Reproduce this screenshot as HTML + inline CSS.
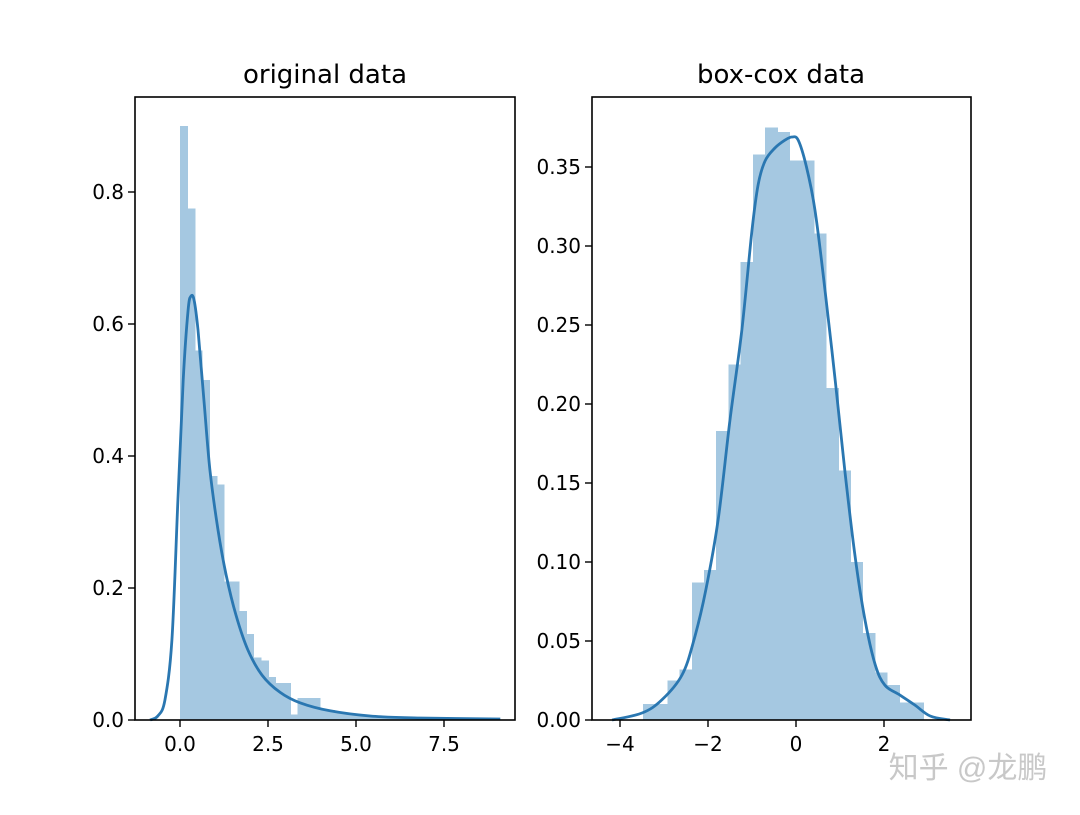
<!DOCTYPE html>
<html><head><meta charset="utf-8"><style>
body{margin:0;background:#fff}
svg text{font-family:"DejaVu Sans","Liberation Sans",sans-serif}
</style></head><body>
<svg id="c" width="1080" height="810" xmlns="http://www.w3.org/2000/svg">
<text x="325" y="83" font-size="26" text-anchor="middle">original data</text>
<text x="781" y="83" font-size="26" text-anchor="middle">box-cox data</text>
<text x="968" y="778" font-size="30" fill="#c8c8c8" text-anchor="middle" style="font-family:'Liberation Sans','Noto Sans CJK SC',sans-serif">知乎 @龙鹏</text>
</svg>
<script>
// left panel data
const leftBinStart = 0;
const leftBinWidth = 0.209;
const leftHeights = [0.90,0.775,0.56,0.515,0.37,0.357,0.21,0.21,0.165,0.13,0.095,0.09,0.065,0.056,0.056,0.008,0.033,0.033,0.033,0.015,0.015,0.012,0.01,0.008,0.008,0.006,0.006,0.005,0.005,0.004,0.004,0.003,0.003,0.003,0.002,0.002,0.002,0.002,0.001,0.001,0.001,0.001];
const leftKdeX = [-0.85,-0.63,-0.43,-0.23,-0.06,0.09,0.23,0.31,0.40,0.51,0.68,0.85,1.08,1.31,1.59,1.93,2.33,2.84,3.41,4.26,5.40,6.82,9.1];
const leftKdeY = [0,0.006,0.03,0.121,0.333,0.515,0.621,0.642,0.636,0.591,0.485,0.379,0.288,0.220,0.159,0.106,0.068,0.042,0.026,0.014,0.006,0.003,0.0015];
const leftXTicks = [0,2.5,5,7.5];
const leftXLabels = ["0.0","2.5","5.0","7.5"];
const leftYTicks = [0,0.2,0.4,0.6,0.8];
const leftYLabels = ["0.0","0.2","0.4","0.6","0.8"];
// right panel data
const rightBinStart = -3.477;
const rightBinWidth = 0.2773;
const rightHeights = [0.010,0.010,0.025,0.032,0.087,0.095,0.183,0.225,0.29,0.358,0.375,0.372,0.354,0.354,0.308,0.21,0.158,0.10,0.055,0.03,0.022,0.011,0.011];
const rightKdeX = [-4.18,-3.5,-3.05,-2.59,-2.32,-2.05,-1.77,-1.5,-1.23,-1.0,-0.86,-0.70,-0.48,-0.25,-0.09,0.05,0.23,0.43,0.66,0.89,1.11,1.34,1.57,1.80,2.02,2.36,2.70,3.05,3.5];
const rightKdeY = [0,0.0044,0.0127,0.0285,0.0506,0.0823,0.1266,0.19,0.247,0.310,0.339,0.354,0.362,0.367,0.369,0.367,0.351,0.323,0.272,0.215,0.158,0.104,0.063,0.035,0.022,0.0158,0.0095,0.0025,0];
const rightXTicks = [-4,-2,0,2];
const rightXLabels = ["\u22124","\u22122","0","2"];
const rightYTicks = [0,0.05,0.10,0.15,0.20,0.25,0.30,0.35];
const rightYLabels = ["0.00","0.05","0.10","0.15","0.20","0.25","0.30","0.35"];

const svg = document.getElementById('c');
const NS = 'http://www.w3.org/2000/svg';
function mk(tag, attrs){const e=document.createElementNS(NS,tag);for(const k in attrs)e.setAttribute(k,attrs[k]);svg.appendChild(e);return e;}

function smooth(pts){
  let d='M'+pts[0][0].toFixed(1)+' '+pts[0][1].toFixed(1);
  for(let i=0;i<pts.length-1;i++){
    const p0=pts[Math.max(0,i-1)],p1=pts[i],p2=pts[i+1],p3=pts[Math.min(pts.length-1,i+2)];
    const c1=[p1[0]+(p2[0]-p0[0])/6,p1[1]+(p2[1]-p0[1])/6];
    const c2=[p2[0]-(p3[0]-p1[0])/6,p2[1]-(p3[1]-p1[1])/6];
    d+='C'+c1[0].toFixed(1)+' '+c1[1].toFixed(1)+' '+c2[0].toFixed(1)+' '+c2[1].toFixed(1)+' '+p2[0].toFixed(1)+' '+p2[1].toFixed(1);
  }
  return d;
}

function panel(p){
  const sx = v => p.x0px + (v - p.x0) * p.kx;
  const sy = v => p.bottom - v * p.ky;
  p.heights.forEach((h,i)=>{
    const a = sx(p.binStart + i*p.binWidth), b = sx(p.binStart + (i+1)*p.binWidth);
    const r = mk('rect',{x:a,y:sy(h),width:b-a+0.6,height:sy(0)-sy(h),fill:'#a5c8e1','shape-rendering':'crispEdges'});
    
    
  });
  const pts = p.kx_.map((v,i)=>[sx(v), sy(p.ky_[i])]);
  const path = mk('path',{d:smooth(pts),fill:'none',stroke:'#2a77b1','stroke-width':2.8,'stroke-linejoin':'round'});
  
  
  const fr = mk('rect',{x:p.left,y:p.top,width:p.right-p.left,height:p.bottom-p.top,fill:'none',stroke:'#000','stroke-width':1.6});
  
  
  p.xt.forEach((v,i)=>{
    const x=sx(v);
    const t=mk('line',{x1:x,x2:x,y1:p.bottom,y2:p.bottom+7,stroke:'#000','stroke-width':1.4});
    
    
    const l=mk('text',{x:x,y:p.bottom+31,'font-size':20,'text-anchor':'middle'});
    l.textContent=p.xl[i];
    
    
  });
  p.yt.forEach((v,i)=>{
    const y=sy(v);
    const t=mk('line',{x1:p.left-7,x2:p.left,y1:y,y2:y,stroke:'#000','stroke-width':1.4});
    
    
    const l=mk('text',{x:p.left-11,y:y+7,'font-size':20,'text-anchor':'end'});
    l.textContent=p.yl[i];
    
    
  });
}
panel({name:'left',left:135,right:515,top:97,bottom:720,x0:0,x0px:180,kx:35.2,ky:660,
  binStart:leftBinStart,binWidth:leftBinWidth,heights:leftHeights,kx_:leftKdeX,ky_:leftKdeY,
  xt:leftXTicks,xl:leftXLabels,yt:leftYTicks,yl:leftYLabels});
panel({name:'right',left:592,right:971,top:97,bottom:720,x0:0,x0px:796,kx:44,ky:1580,
  binStart:rightBinStart,binWidth:rightBinWidth,heights:rightHeights,kx_:rightKdeX,ky_:rightKdeY,
  xt:rightXTicks,xl:rightXLabels,yt:rightYTicks,yl:rightYLabels});
</script>
</body></html>
